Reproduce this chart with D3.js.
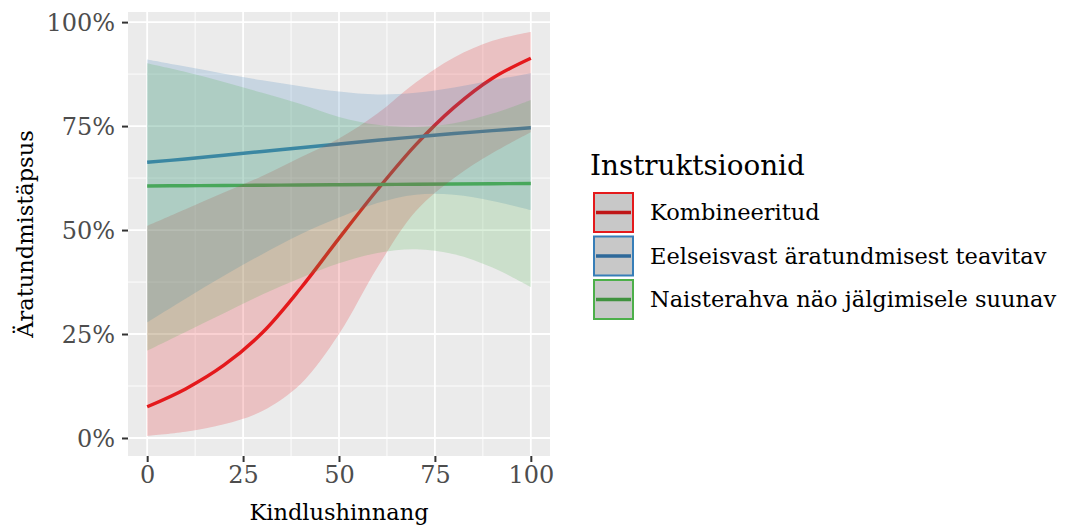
<!DOCTYPE html>
<html>
<head>
<meta charset="utf-8">
<script src="https://cdn.jsdelivr.net/npm/d3@7"></script>
<style>
  body { margin: 0; background: #fff; }
</style>
</head>
<body>
<div id="chart"></div>
<script>
const confidence = [0, 10, 20, 30, 40, 50, 60, 70, 80, 90, 100];

const groups = ['Kombineeritud', 'Eelseisvast äratundmisest teavitav', 'Naisterahva näo jälgimisele suunav'];
const groupColors = ['#E41A1C', '#377EB8', '#4DAF4A'];

// fitted probability (line) and its confidence band, per group
const fitKomb = [0.075, 0.118, 0.175, 0.253, 0.36, 0.48, 0.597, 0.705, 0.795, 0.865, 0.913];
const lowKomb = [0.005, 0.015, 0.033, 0.065, 0.13, 0.25, 0.41, 0.545, 0.625, 0.685, 0.735];
const highKomb = [0.51, 0.55, 0.59, 0.63, 0.675, 0.72, 0.78, 0.855, 0.915, 0.955, 0.976];

const fitTeav = [0.663, 0.671, 0.68, 0.689, 0.698, 0.707, 0.716, 0.724, 0.732, 0.739, 0.746];
const lowTeav = [0.278, 0.335, 0.39, 0.442, 0.49, 0.53, 0.565, 0.585, 0.585, 0.57, 0.548];
const highTeav = [0.91, 0.893, 0.876, 0.86, 0.846, 0.833, 0.826, 0.83, 0.843, 0.86, 0.877];

const fitSuun = [0.606, 0.6066, 0.6072, 0.6078, 0.6084, 0.609, 0.6096, 0.6102, 0.6108, 0.6114, 0.612];
const lowSuun = [0.21, 0.255, 0.30, 0.345, 0.385, 0.42, 0.445, 0.454, 0.442, 0.41, 0.363];
const highSuun = [0.901, 0.88, 0.856, 0.83, 0.803, 0.772, 0.753, 0.748, 0.757, 0.78, 0.813];

const xTicks = [0, 25, 50, 75, 100];
const yTicks = [0, 0.25, 0.5, 0.75, 1];

const fits = [fitKomb, fitTeav, fitSuun];
const lows = [lowKomb, lowTeav, lowSuun];
const highs = [highKomb, highTeav, highSuun];

const series = groups.map((g, i) => ({
  key: g,
  color: groupColors[i],
  values: confidence.map((c, j) => ({ x: c, fit: fits[i][j], low: lows[i][j], high: highs[i][j] }))
}));

const width = 1079;
const height = 526;
const panel = { left: 128, right: 550, top: 12, bottom: 456 };
const serif = "'DejaVu Serif', serif";

const svg = d3.select("#chart")
  .append("svg")
  .attr("width", width)
  .attr("height", height)
  .attr("font-family", serif);

const x = d3.scaleLinear()
  .domain([-5, 105])
  .range([panel.left, panel.right]);

const y = d3.scaleLinear()
  .domain([-0.0433, 1.0243])
  .range([panel.bottom, panel.top]);

// panel background
svg.append("rect")
  .attr("x", panel.left)
  .attr("y", panel.top)
  .attr("width", panel.right - panel.left)
  .attr("height", panel.bottom - panel.top)
  .attr("fill", "#EBEBEB");

// minor grid
const grid = svg.append("g");
grid.selectAll(".xminor")
  .data(d3.pairs(xTicks).map(([a, b]) => (a + b) / 2))
  .join("line")
  .attr("x1", x).attr("x2", x)
  .attr("y1", panel.top).attr("y2", panel.bottom)
  .attr("stroke", "#fff").attr("stroke-width", 0.9);
grid.selectAll(".yminor")
  .data(d3.pairs(yTicks).map(([a, b]) => (a + b) / 2))
  .join("line")
  .attr("y1", y).attr("y2", y)
  .attr("x1", panel.left).attr("x2", panel.right)
  .attr("stroke", "#fff").attr("stroke-width", 0.9);

// major grid
grid.selectAll(".xmajor")
  .data(xTicks)
  .join("line")
  .attr("x1", x).attr("x2", x)
  .attr("y1", panel.top).attr("y2", panel.bottom)
  .attr("stroke", "#fff").attr("stroke-width", 1.8);
grid.selectAll(".ymajor")
  .data(yTicks)
  .join("line")
  .attr("y1", y).attr("y2", y)
  .attr("x1", panel.left).attr("x2", panel.right)
  .attr("stroke", "#fff").attr("stroke-width", 1.8);

const line = d3.line()
  .x(d => x(d.x))
  .y(d => y(d.fit))
  .curve(d3.curveCatmullRom.alpha(0.5));

const band = d3.area()
  .x(d => x(d.x))
  .y0(d => y(d.low))
  .y1(d => y(d.high))
  .curve(d3.curveCatmullRom.alpha(0.5));

// lines first, the bands are painted over them
svg.append("g")
  .selectAll("path")
  .data(series)
  .join("path")
  .attr("d", d => line(d.values))
  .attr("fill", "none")
  .attr("stroke", d => d.color)
  .attr("stroke-width", 3.4);

svg.append("g")
  .selectAll("path")
  .data(series)
  .join("path")
  .attr("d", d => band(d.values))
  .attr("fill", d => d.color)
  .attr("fill-opacity", 0.2);

// axes
const xAxis = svg.append("g")
  .attr("transform", `translate(0,${panel.bottom})`)
  .call(d3.axisBottom(x).tickValues(xTicks).tickSize(6).tickPadding(4));
const yAxis = svg.append("g")
  .attr("transform", `translate(${panel.left},0)`)
  .call(d3.axisLeft(y).tickValues(yTicks).tickSize(6).tickPadding(7).tickFormat(d3.format(".0%")));

[xAxis, yAxis].forEach(ax => {
  ax.attr("font-family", serif).attr("font-size", 24);
  ax.select(".domain").remove();
  ax.selectAll(".tick line").attr("stroke", "#333").attr("stroke-width", 2);
  ax.selectAll(".tick text").attr("fill", "#4D4D4D");
});
xAxis.selectAll(".tick text").attr("dy", "0.72em");
yAxis.selectAll(".tick text").attr("dy", "0.34em");

svg.append("text")
  .attr("x", (panel.left + panel.right) / 2)
  .attr("y", 520)
  .attr("text-anchor", "middle")
  .attr("font-size", 22.5)
  .text("Kindlushinnang");

svg.append("text")
  .attr("transform", `translate(33,${(panel.top + panel.bottom) / 2}) rotate(-90)`)
  .attr("text-anchor", "middle")
  .attr("font-size", 22.5)
  .text("Äratundmistäpsus");

// legend
const legend = svg.append("g").attr("transform", "translate(590,0)");
legend.append("text")
  .attr("x", 0)
  .attr("y", 175)
  .attr("font-size", 27.8)
  .text("Instruktsioonid");

const keys = legend.selectAll(".key")
  .data(series)
  .join("g")
  .attr("transform", (d, i) => `translate(3,${192 + i * 43.5})`);

keys.append("rect")
  .attr("x", 1).attr("y", 1)
  .attr("width", 39).attr("height", 39)
  .attr("fill", "#C8C8C8")
  .attr("stroke", d => d.color)
  .attr("stroke-width", 2);
keys.append("line")
  .attr("x1", 3).attr("x2", 38)
  .attr("y1", 20.5).attr("y2", 20.5)
  .attr("stroke", d => d3.color(d.color).darker(0.5))
  .attr("stroke-width", 3.4);

keys.append("text")
  .attr("x", 57)
  .attr("y", 20.5)
  .attr("dy", "0.35em")
  .attr("font-size", 22.5)
  .text(d => d.key);
</script>
</body>
</html>
